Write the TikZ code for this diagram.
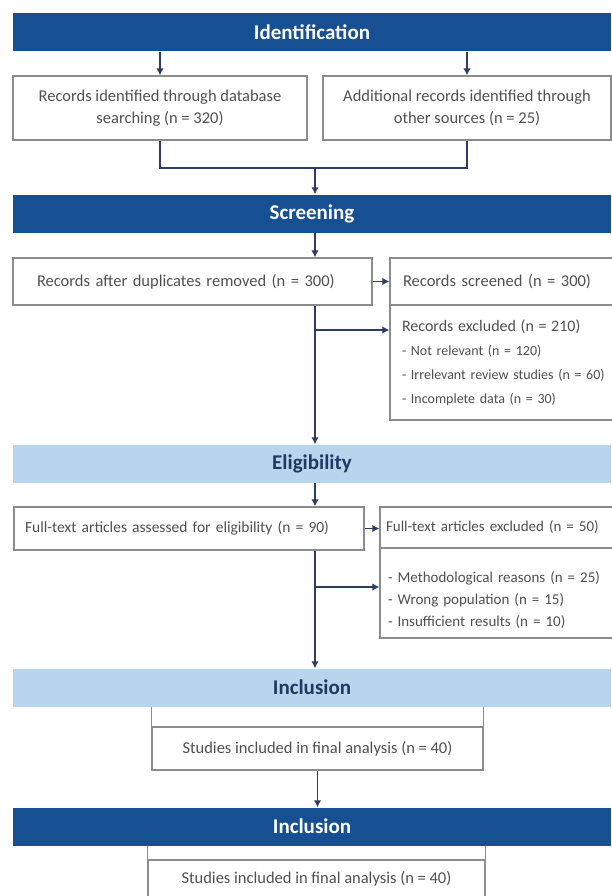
\documentclass[tikz,border=0pt]{standalone}
\usepackage{fontspec}
\setmainfont{Carlito}
\usetikzlibrary{shapes.geometric, arrows.meta}
\definecolor{bannerblue}{RGB}{22,80,146}
\definecolor{lightblue}{RGB}{184,213,238}
\definecolor{bannertext}{RGB}{28,58,100}
\definecolor{linenavy}{RGB}{42,62,98}
\definecolor{boxgray}{RGB}{140,140,140}
\definecolor{textgray}{RGB}{80,80,80}
\tikzstyle{banner} = [rectangle, minimum width=598pt, minimum height=38pt, inner sep=0pt, text centered, fill=bannerblue, text=white, font=\fontsize{21}{24}\selectfont\bfseries]
\tikzstyle{lightbanner} = [banner, fill=lightblue, text=bannertext]
\tikzstyle{box} = [rectangle, draw=boxgray, line width=1.2pt, inner ysep=0pt, text=textgray, font=\fontsize{16.5}{22}\selectfont]
\tikzstyle{listbox} = [box, align=left, font=\fontsize{14}{24}\selectfont]
\tikzstyle{boxline} = [draw=boxgray, line width=1.2pt]
\tikzstyle{connector} = [draw=linenavy, line width=1.4pt]
\tikzstyle{arrow} = [connector, -{Latex[length=7pt, width=7.5pt]}]

\begin{document}
\begin{tikzpicture}[x=1pt, y=-1pt]
\useasboundingbox (0,0) rectangle (611,896);
\fill [white] (0,0) rectangle (611,896);

\coordinate (spine) at (315,0);

\node (ident) [banner] at (312,32.5) {Identification};
\node (recdb) [box, minimum width=294pt, minimum height=64pt, align=center] at (160,108) {Records identified through database\\searching (n = 320)};
\node (recother) [box, minimum width=288pt, minimum height=64pt, align=center] at (467,108) {Additional records identified through\\other sources (n = 25)};
\coordinate (merge) at (315,168);

\node (screen) [banner] at (312,213.5) {Screening};
\node (dedup) [box, minimum height=47pt, text width=311pt, inner xsep=24pt, align=left] at (192.5,281.5) {Records after duplicates removed (n = 300)};
\node (screened) [box, minimum height=47pt, text width=240pt, inner xsep=13pt, align=left] at (523,281.5) {Records screened (n = 300)};
\node (excl) [listbox, minimum height=115pt, text width=244pt, inner xsep=12pt] at (524,362.5) {{\fontsize{16}{24}\selectfont Records excluded (n = 210)}\\- Not relevant (n = 120)\\- Irrelevant review studies (n = 60)\\- Incomplete data (n = 30)};
\coordinate (br1) at (315,330);

\node (elig) [lightbanner] at (312,463.5) {Eligibility};
\node (fta) [box, minimum height=43pt, text width=328pt, inner xsep=11pt, align=left, font=\fontsize{15.5}{22}\selectfont] at (189,528.5) {Full-text articles assessed for eligibility (n = 90)};
\node (ftex) [box, minimum height=41pt, text width=248pt, inner xsep=6pt, align=left, font=\fontsize{15}{22}\selectfont] at (510,527.5) {Full-text articles excluded (n = 50)};
\node (ftlist) [listbox, minimum height=90pt, text width=244pt, inner xsep=8pt, font=\fontsize{15}{22}\selectfont] at (510,593) {\rule{0pt}{25pt}- Methodological reasons (n = 25)\\- Wrong population (n = 15)\\- Insufficient results (n = 10)};
\coordinate (br2) at (315,587);

\node (incl1) [lightbanner] at (312,687.5) {Inclusion};
\node (stud1) [box, minimum width=331pt, minimum height=43pt] at (317.5,748.5) {Studies included in final analysis (n = 40)};

\node (incl2) [banner] at (312,826.5) {Inclusion};
\node (stud2) [box, minimum width=337pt, minimum height=38pt] at (316.5,879) {Studies included in final analysis (n = 40)};

\draw [arrow] (recdb.north |- ident.south) -- (recdb.north);
\draw [arrow] (recother.north |- ident.south) -- (recother.north);
\draw [connector] (recdb.south) |- (merge) -| (recother.south);
\draw [arrow] (merge) -- (merge |- screen.north);

\draw [arrow] (spine |- screen.south) -- (spine |- dedup.north);
\draw [arrow] (dedup.east) -- (screened.west);
\draw [arrow] (spine |- dedup.south) -- (spine |- elig.north);
\draw [arrow] (br1) -- (br1 -| excl.west);

\draw [arrow] (spine |- elig.south) -- (spine |- fta.north);
\draw [arrow] (fta.east) -- (fta.east -| ftex.west);
\draw [arrow] (spine |- fta.south) -- (spine |- incl1.north);
\draw [arrow] (br2) -- (br2 -| ftlist.west);

\draw [boxline] (stud1.north west) -- (stud1.north west |- incl1.south);
\draw [boxline] (stud1.north east) -- (stud1.north east |- incl1.south);
\draw [arrow] (stud1.south) -- (stud1.south |- incl2.north);
\draw [boxline] (stud2.north west) -- (stud2.north west |- incl2.south);
\draw [boxline] (stud2.north east) -- (stud2.north east |- incl2.south);

\end{tikzpicture}
\end{document}
